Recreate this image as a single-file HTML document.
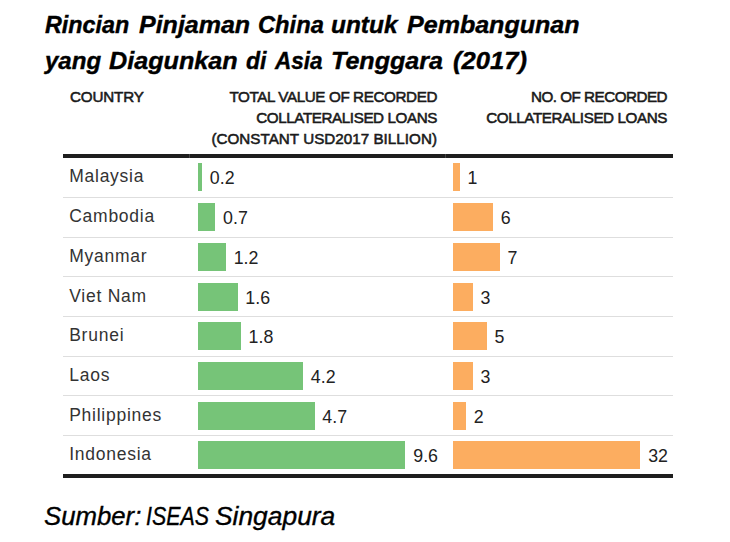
<!DOCTYPE html>
<html><head><meta charset="utf-8">
<style>
html,body{margin:0;padding:0;background:#fff;}
body{width:730px;height:542px;position:relative;overflow:hidden;font-family:"Liberation Sans",sans-serif;}
.t{position:absolute;font-weight:bold;font-style:italic;font-size:24.5px;line-height:30px;color:#000;-webkit-text-stroke:0.4px #000;white-space:nowrap;transform-origin:0 0;}
.h{position:absolute;font-weight:normal;-webkit-text-stroke:0.55px #1a1a1a;font-size:15.2px;line-height:21px;letter-spacing:-0.1px;color:#1a1a1a;white-space:nowrap;}
.c{position:absolute;left:69.2px;font-size:17.5px;line-height:30px;color:#333;white-space:nowrap;letter-spacing:0.75px;}
.v{position:absolute;font-size:17.8px;line-height:30px;color:#222;white-space:nowrap;}
.r{text-align:right;}
.bar{position:absolute;height:28px;}
.g{background:#76c478;}
.o{background:#fcad60;}
.sep{position:absolute;left:63px;width:610px;height:1px;background:#dedede;}
.thick{position:absolute;height:4px;background:#1e1e1e;}
.f{position:absolute;left:44px;top:501px;font-style:italic;font-size:25px;transform-origin:0 0;-webkit-text-stroke:0.35px #000;line-height:30px;color:#000;white-space:nowrap;}
</style></head><body>
<div class="t" style="top:10px;left:45.30px;transform:scaleX(0.9511)">Rincian</div>
<div class="t" style="top:10px;left:138.80px;transform:scaleX(1.0204)">Pinjaman</div>
<div class="t" style="top:10px;left:257.83px;transform:scaleX(0.9672)">China</div>
<div class="t" style="top:10px;left:330.60px;transform:scaleX(0.9970)">untuk</div>
<div class="t" style="top:10px;left:407.10px;transform:scaleX(1.0220)">Pembangunan</div>
<div class="t" style="top:45.5px;left:45.48px;transform:scaleX(0.9810)">yang</div>
<div class="t" style="top:45.5px;left:108.60px;transform:scaleX(1.0272)">Diagunkan</div>
<div class="t" style="top:45.5px;left:245.60px;transform:scaleX(0.9391)">di</div>
<div class="t" style="top:45.5px;left:274.92px;transform:scaleX(0.9192)">Asia</div>
<div class="t" style="top:45.5px;left:331.35px;transform:scaleX(1.0234)">Tenggara</div>
<div class="t" style="top:45.5px;left:452.96px;transform:scaleX(1.0443)">(2017)</div>
<div class="h" id="h1" style="left:70px;top:85.7px;letter-spacing:-0.15px">COUNTRY</div>
<div class="h" id="h2a" style="right:293px;top:85.7px;letter-spacing:-0.38px">TOTAL VALUE OF RECORDED</div>
<div class="h" id="h2b" style="right:293px;top:106.5px;letter-spacing:-0.4px">COLLATERALISED LOANS</div>
<div class="h" id="h2c" style="right:293px;top:127.5px;letter-spacing:0.03px">(CONSTANT USD2017 BILLION)</div>
<div class="h" id="h3a" style="right:63px;top:85.7px;letter-spacing:-0.5px">NO. OF RECORDED</div>
<div class="h" id="h3b" style="right:63px;top:106.5px;letter-spacing:-0.4px">COLLATERALISED LOANS</div>
<div class="thick" style="top:154.3px;left:63px;width:610px"></div>
<div class="thick" style="top:474px;left:63px;width:610px"></div>
<div style="position:absolute;top:154.3px;left:189px;width:1px;height:4px;background:#444"></div>
<div style="position:absolute;top:154.3px;left:445px;width:1px;height:4px;background:#444"></div>
<div class="c" style="top:160.7px">Malaysia</div>
<div class="bar g" style="top:163.0px;left:197.5px;width:4.5px"></div>
<div class="v" style="top:163.3px;left:209.8px">0.2</div>
<div class="bar o" style="top:163.0px;left:453.3px;width:7.1px"></div>
<div class="v" style="top:163.3px;left:467.6px">1</div>
<div class="c" style="top:200.7px">Cambodia</div>
<div class="bar g" style="top:203.0px;left:197.5px;width:17.8px"></div>
<div class="v" style="top:202.8px;left:223.1px">0.7</div>
<div class="bar o" style="top:203.0px;left:453.3px;width:40.2px"></div>
<div class="v" style="top:202.8px;left:500.7px">6</div>
<div class="c" style="top:240.7px">Myanmar</div>
<div class="bar g" style="top:243.0px;left:197.5px;width:28.4px"></div>
<div class="v" style="top:242.8px;left:233.7px">1.2</div>
<div class="bar o" style="top:243.0px;left:453.3px;width:47.0px"></div>
<div class="v" style="top:242.8px;left:507.5px">7</div>
<div class="c" style="top:280.7px">Viet Nam</div>
<div class="bar g" style="top:283.0px;left:197.5px;width:40.0px"></div>
<div class="v" style="top:282.8px;left:245.3px">1.6</div>
<div class="bar o" style="top:283.0px;left:453.3px;width:20.0px"></div>
<div class="v" style="top:282.8px;left:480.5px">3</div>
<div class="c" style="top:319.7px">Brunei</div>
<div class="bar g" style="top:322.0px;left:197.5px;width:43.3px"></div>
<div class="v" style="top:321.8px;left:248.6px">1.8</div>
<div class="bar o" style="top:322.0px;left:453.3px;width:34.0px"></div>
<div class="v" style="top:321.8px;left:494.5px">5</div>
<div class="c" style="top:359.7px">Laos</div>
<div class="bar g" style="top:362.0px;left:197.5px;width:105.5px"></div>
<div class="v" style="top:361.8px;left:310.8px">4.2</div>
<div class="bar o" style="top:362.0px;left:453.3px;width:20.0px"></div>
<div class="v" style="top:361.8px;left:480.5px">3</div>
<div class="c" style="top:399.7px">Philippines</div>
<div class="bar g" style="top:402.0px;left:197.5px;width:117.0px"></div>
<div class="v" style="top:401.8px;left:322.3px">4.7</div>
<div class="bar o" style="top:402.0px;left:453.3px;width:13.2px"></div>
<div class="v" style="top:401.8px;left:473.7px">2</div>
<div class="c" style="top:438.7px">Indonesia</div>
<div class="bar g" style="top:441.0px;left:197.5px;width:207.6px"></div>
<div class="v r" style="top:440.8px;right:292px">9.6</div>
<div class="bar o" style="top:441.0px;left:453.3px;width:186.3px"></div>
<div class="v r" style="top:440.8px;right:62px">32</div>
<div class="sep" style="top:197.0px"></div>
<div class="sep" style="top:236.7px"></div>
<div class="sep" style="top:276.3px"></div>
<div class="sep" style="top:315.9px"></div>
<div class="sep" style="top:355.6px"></div>
<div class="sep" style="top:395.2px"></div>
<div class="sep" style="top:434.9px"></div>
<div class="f" id="f1" style="left:43.5px;transform:scaleX(1.03)">Sumber:</div>
<div class="f" id="f2" style="left:146px;transform:scaleX(0.855)">ISEAS</div>
<div class="f" id="f3" style="left:215px;transform:scaleX(1.055)">Singapura</div>
</body></html>
